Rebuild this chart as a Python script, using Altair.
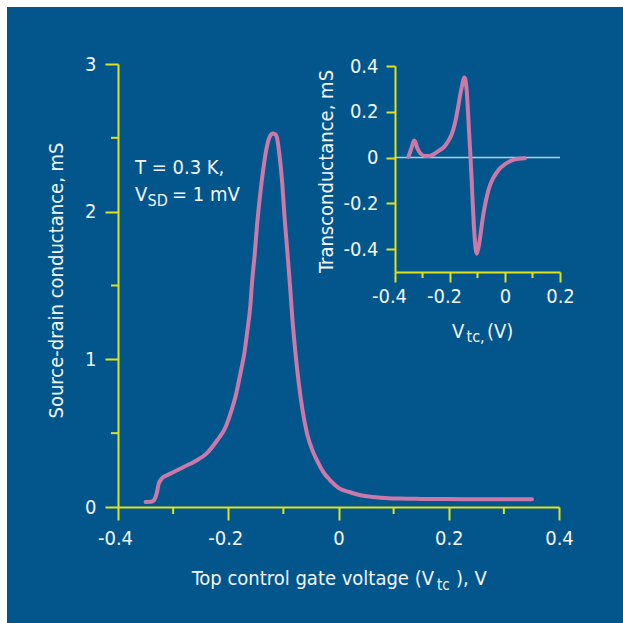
import altair as alt
import pandas as pd

# ---- data ----
main_x = [-0.350, -0.340, -0.335, -0.330, -0.326, -0.320, -0.311, -0.300, -0.281, -0.260,
          -0.240, -0.220, -0.205, -0.196, -0.186, -0.178, -0.170, -0.166, -0.160, -0.157,
          -0.152, -0.148, -0.142, -0.136, -0.131, -0.127, -0.123, -0.119, -0.115, -0.112,
          -0.107, -0.102, -0.098, -0.093, -0.088, -0.084, -0.078, -0.072, -0.065, -0.057,
          -0.048, -0.039, -0.028, -0.015, 0.000, 0.021, 0.040, 0.064, 0.090, 0.112,
          0.150, 0.200, 0.250, 0.300, 0.351]
main_y = [0.034, 0.035, 0.045, 0.090, 0.159, 0.195, 0.215, 0.235, 0.271, 0.310,
          0.360, 0.452, 0.540, 0.633, 0.760, 0.904, 1.060, 1.175, 1.360, 1.514,
          1.710, 1.897, 2.120, 2.300, 2.420, 2.484, 2.520, 2.530, 2.525, 2.507,
          2.380, 2.190, 1.970, 1.740, 1.500, 1.290, 1.040, 0.836, 0.650, 0.497,
          0.390, 0.316, 0.240, 0.181, 0.130, 0.100, 0.080, 0.068, 0.060, 0.057,
          0.055, 0.054, 0.053, 0.053, 0.052]

inset_x = [-0.351, -0.345, -0.338, -0.333, -0.330, -0.326, -0.320, -0.314, -0.305, -0.290,
           -0.275, -0.260, -0.240, -0.224, -0.210, -0.194, -0.182, -0.170, -0.162, -0.154,
           -0.150, -0.148, -0.145, -0.142, -0.139, -0.135, -0.131, -0.127, -0.122, -0.117,
           -0.113, -0.109, -0.106, -0.103, -0.100, -0.096, -0.091, -0.085, -0.079, -0.073,
           -0.064, -0.055, -0.043, -0.030, -0.015, 0.000, 0.015, 0.030, 0.050, 0.072]
inset_y = [0.004, 0.025, 0.050, 0.070, 0.075, 0.068, 0.045, 0.029, 0.015, 0.007,
           0.007, 0.014, 0.030, 0.043, 0.065, 0.101, 0.150, 0.224, 0.280, 0.326,
           0.345, 0.350, 0.345, 0.325, 0.290, 0.210, 0.120, 0.036, -0.080, -0.210,
           -0.300, -0.370, -0.405, -0.420, -0.410, -0.390, -0.355, -0.300, -0.250, -0.210,
           -0.160, -0.123, -0.090, -0.065, -0.043, -0.029, -0.018, -0.010, -0.005, -0.003]

main_x_ticks = [-0.4, -0.2, 0, 0.2, 0.4]
main_x_minor = [-0.3, -0.1, 0.1, 0.3]
main_y_ticks = [0, 1, 2, 3]
main_y_minor = [0.5, 1.5, 2.5]
inset_x_ticks = [-0.4, -0.2, 0, 0.2]
inset_x_minor = [-0.3, -0.1, 0.1]
inset_y_ticks = [-0.4, -0.2, 0, 0.2, 0.4]

main_y_title = "Source-drain conductance, mS"
inset_y_title = "Transconductance, mS"
main_x_title = ["Top control gate voltage (V", "tc", "), V"]
inset_x_title = ["V", "tc,", "(V)"]
note_line1 = "T = 0.3 K,"
note_line2 = ["V", "SD", "= 1 mV"]

# ---- style ----
BLUE = "#03568b"
PINK = "#cc78a8"
YEL = "#e2e21c"
WHITE = "#f2f5fa"
ZERO = "#b0cfee"
FONT = "DejaVu Sans Condensed"

SIGNED = "datum.value == 0 ? '0' : (datum.value < 0 ? '-' : '') + format(abs(datum.value), '.1f')"

common = dict(grid=False, domainColor=YEL, domainWidth=2, tickColor=YEL, tickWidth=2,
              labelColor=WHITE, labelFont=FONT, labelFontSize=20, labelFlush=False,
              labelOverlap=False, titleFont=FONT, titleFontSize=20, titleFontWeight="normal",
              titleColor=WHITE, zindex=2)

mx = alt.Scale(domain=[-0.4, 0.4], nice=False, zero=False)
my = alt.Scale(domain=[0, 3], nice=False)
ix = alt.Scale(domain=[-0.4, 0.2], range=[277, 442], nice=False, zero=False)
iy = alt.Scale(domain=[-0.5, 0.4], range=[208, 2], nice=False, zero=False)

ax_mx = alt.Axis(values=main_x_ticks, title=None, tickSize=13, labelPadding=8,
                 labelExpr=SIGNED,
                 labelOffset={"condition": {"test": "datum.value < 0", "value": -3}, "value": 0},
                 **common)
ax_my = alt.Axis(values=main_y_ticks, title=main_y_title, tickSize=13, labelPadding=9,
                 format="d", titleX=-56, titleY=216, titleAngle=270, titleAlign="center",
                 titleBaseline="alphabetic", **common)
ax_ix = alt.Axis(orient="bottom", offset=-235, values=inset_x_ticks, title=None,
                 tickSize=10, labelPadding=4, labelExpr=SIGNED,
                 labelOffset={"condition": {"test": "datum.value < 0", "value": -6}, "value": 0},
                 **common)
ax_iy = alt.Axis(orient="left", offset=-277, values=inset_y_ticks, title=inset_y_title,
                 tickSize=9, labelPadding=8, labelExpr=SIGNED, titleX=-63, titleY=107,
                 titleAngle=270, titleAlign="center", titleBaseline="alphabetic", **common)

one = pd.DataFrame({"k": [0]})

# white margin along the left and top edges, drawn as thick rules
frame_left = alt.Chart(one).mark_rule(color="white", strokeWidth=7, strokeCap="butt").encode(
    x=alt.value(-114.5), y=alt.value(-64), y2=alt.value(559))
frame_top = alt.Chart(one).mark_rule(color="white", strokeWidth=7, strokeCap="butt").encode(
    x=alt.value(-118), x2=alt.value(505), y=alt.value(-60.5))

main_line = alt.Chart(pd.DataFrame({"v": main_x, "g": main_y})).mark_line(
    color=PINK, strokeWidth=4, strokeCap="round", interpolate="monotone").encode(
    x=alt.X("v:Q", scale=mx, axis=ax_mx),
    y=alt.Y("g:Q", scale=my, axis=ax_my))

main_minor_x = alt.Chart(pd.DataFrame({"v": main_x_minor})).mark_rule(
    color=YEL, strokeWidth=2).encode(
    x=alt.X("v:Q", scale=mx, axis=ax_mx), y=alt.value(443), y2=alt.value(450))

main_minor_y = alt.Chart(pd.DataFrame({"g": main_y_minor})).mark_rule(
    color=YEL, strokeWidth=2).encode(
    y=alt.Y("g:Q", scale=my, axis=ax_my), x=alt.value(0), x2=alt.value(-7))


def label(txt, x, y, size=20, align="left"):
    return alt.Chart(one).mark_text(
        align=align, baseline="alphabetic", font=FONT, fontSize=size, color=WHITE).encode(
        x=alt.value(x), y=alt.value(y), text=alt.value(txt))


texts = [
    label(main_x_title[0], 316, 521, 20, "right"),
    label(main_x_title[1], 319, 526, 15),
    label(main_x_title[2], 338, 521, 20),
    label(inset_x_title[0], 334, 274, 20),
    label(inset_x_title[1], 348.5, 278, 16),
    label(inset_x_title[2], 369, 274, 20),
    label(note_line1, 17, 110, 20),
    label(note_line2[0], 17, 137, 20),
    label(note_line2[1], 29.5, 142, 16),
    label(note_line2[2], 54, 137, 20),
]

main = alt.layer(frame_left, frame_top, main_line, main_minor_x, main_minor_y, *texts)

inset_zero = alt.Chart(pd.DataFrame({"a": [-0.4], "b": [0.2], "z": [0]})).mark_rule(
    color=ZERO, strokeWidth=1.5).encode(
    x=alt.X("a:Q", scale=ix, axis=ax_ix), x2="b:Q",
    y=alt.Y("z:Q", scale=iy, axis=ax_iy))

inset_line = alt.Chart(pd.DataFrame({"a": inset_x, "z": inset_y})).mark_line(
    color=PINK, strokeWidth=4, strokeCap="round", interpolate="monotone").encode(
    x=alt.X("a:Q", scale=ix, axis=ax_ix),
    y=alt.Y("z:Q", scale=iy, axis=ax_iy))

inset_minor = alt.Chart(pd.DataFrame({"a": inset_x_minor})).mark_rule(
    color=YEL, strokeWidth=2).encode(
    x=alt.X("a:Q", scale=ix, axis=ax_ix), y=alt.value(208), y2=alt.value(214))

inset = alt.layer(inset_zero, inset_line, inset_minor)

chart = alt.layer(main, inset).resolve_scale(
    x="independent", y="independent").properties(
    width=441, height=443,
    autosize=alt.AutoSizeParams(type="none"),
    padding={"left": 118, "top": 64, "right": 64, "bottom": 116},
    background=BLUE,
).configure_view(stroke=None)

chart.save("out.html", embed_options={"renderer": "svg", "actions": False})
